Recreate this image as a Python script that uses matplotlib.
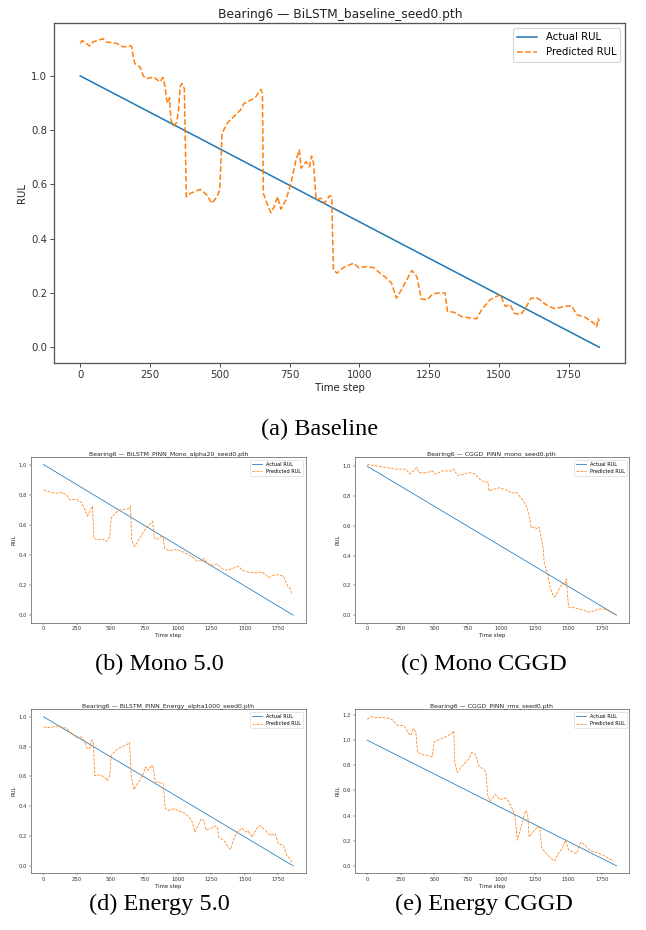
import matplotlib
matplotlib.use("Agg")
import matplotlib.pyplot as plt
import numpy as np

N_STEPS = 1860  # length of the actual RUL line (0 .. N_STEPS)

# ---------------- data ----------------
# (a) Baseline
base_x = [0, 8, 34, 45, 82, 94, 130, 154, 178, 184, 190, 196, 214, 226, 238, 262, 286, 296, 304,
          310, 316, 320, 325, 334, 346, 352, 358, 364, 373, 380, 394, 430, 454, 472, 490, 500, 508,
          526, 550, 574, 586, 610, 629, 647, 653, 656, 671, 683, 695, 707, 719, 737, 755, 773, 785,
          791, 809, 821, 829, 836, 845, 863, 875, 893, 901, 907, 920, 944, 980, 999, 1029, 1054,
          1066, 1090, 1115, 1133, 1151, 1170, 1188, 1206, 1222, 1243, 1261, 1279, 1307, 1316, 1340,
          1365, 1395, 1420, 1438, 1468, 1493, 1505, 1523, 1541, 1554, 1578, 1596, 1615, 1639, 1669,
          1700, 1737, 1761, 1779, 1810, 1840, 1850, 1856, 1860]
base_y = [1.12, 1.13, 1.11, 1.125, 1.137, 1.125, 1.12, 1.107, 1.11, 1.11, 1.07, 1.045, 1.033, 1.0,
          0.99, 0.996, 0.978, 0.994, 0.96, 0.91, 0.90, 0.92, 0.837, 0.815, 0.83, 0.874, 0.96, 0.972,
          0.953, 0.555, 0.567, 0.582, 0.561, 0.53, 0.555, 0.58, 0.788, 0.825, 0.85, 0.874, 0.898,
          0.91, 0.923, 0.95, 0.935, 0.567, 0.525, 0.496, 0.518, 0.555, 0.509, 0.543, 0.604, 0.69,
          0.727, 0.66, 0.684, 0.665, 0.705, 0.678, 0.543, 0.549, 0.531, 0.558, 0.555, 0.285, 0.273,
          0.295, 0.31, 0.292, 0.298, 0.292, 0.28, 0.261, 0.237, 0.181, 0.212, 0.249, 0.283, 0.261,
          0.178, 0.175, 0.194, 0.2, 0.2, 0.132, 0.129, 0.114, 0.108, 0.105, 0.138, 0.175, 0.188,
          0.194, 0.151, 0.157, 0.126, 0.12, 0.145, 0.181, 0.181, 0.157, 0.142, 0.151, 0.153, 0.12,
          0.11, 0.089, 0.075, 0.105, 0.096]

# (b) Mono 5.0
mono_x = [0, 49, 99, 136, 173, 197, 246, 283, 308, 328, 345, 365, 375, 394, 444, 468, 493, 505,
          530, 567, 604, 641, 648, 656, 678, 702, 739, 764, 789, 813, 826, 850, 875, 892, 902, 937,
          986, 1035, 1085, 1122, 1146, 1183, 1195, 1220, 1257, 1294, 1331, 1356, 1405, 1454, 1479,
          1528, 1578, 1627, 1651, 1676, 1713, 1750, 1787, 1804, 1824, 1839, 1849]
mono_y = [0.83, 0.818, 0.81, 0.814, 0.798, 0.765, 0.769, 0.747, 0.70, 0.657, 0.69, 0.724, 0.511,
          0.504, 0.504, 0.489, 0.518, 0.646, 0.675, 0.697, 0.702, 0.708, 0.724, 0.50, 0.455, 0.489,
          0.545, 0.578, 0.60, 0.623, 0.511, 0.504, 0.522, 0.511, 0.444, 0.428, 0.437, 0.422, 0.40,
          0.377, 0.359, 0.361, 0.377, 0.343, 0.332, 0.339, 0.309, 0.298, 0.309, 0.325, 0.298, 0.285,
          0.28, 0.285, 0.271, 0.249, 0.265, 0.269, 0.258, 0.22, 0.186, 0.175, 0.137]

# (c) Mono CGGD
monoc_x = [0, 67, 141, 215, 289, 318, 343, 368, 388, 437, 486, 511, 560, 634, 646, 671, 716, 765,
           807, 839, 876, 901, 908, 938, 988, 1024, 1061, 1079, 1111, 1136, 1173, 1190, 1210, 1222,
           1247, 1264, 1281, 1301, 1314, 1321, 1345, 1365, 1382, 1400, 1425, 1454, 1474, 1486, 1493,
           1503, 1555, 1602, 1654, 1691, 1728, 1777, 1815, 1849]
monoc_y = [1.011, 1.002, 0.991, 0.98, 0.98, 0.946, 0.968, 0.991, 0.957, 0.955, 0.968, 0.946, 0.968,
           0.968, 0.98, 0.939, 0.946, 0.957, 0.946, 0.912, 0.894, 0.894, 0.833, 0.844, 0.855, 0.844,
           0.833, 0.817, 0.826, 0.80, 0.756, 0.729, 0.665, 0.586, 0.593, 0.579, 0.593, 0.507, 0.439,
           0.348, 0.281, 0.19, 0.14, 0.122, 0.165, 0.213, 0.206, 0.244, 0.143, 0.054, 0.048, 0.036,
           0.02, 0.029, 0.041, 0.041, 0.02, 0.005]

# (d) Energy 5.0
en_x = [0, 25, 74, 123, 173, 210, 246, 283, 308, 325, 345, 357, 370, 382, 419, 456, 474, 493, 505,
        542, 579, 616, 641, 653, 673, 702, 739, 759, 776, 813, 833, 863, 892, 907, 937, 974, 1011,
        1048, 1085, 1109, 1127, 1151, 1176, 1195, 1208, 1245, 1277, 1294, 1306, 1343, 1380, 1393,
        1417, 1442, 1479, 1504, 1523, 1553, 1590, 1615, 1651, 1688, 1725, 1750, 1787, 1812, 1836,
        1849]
en_y = [0.933, 0.926, 0.933, 0.933, 0.922, 0.888, 0.861, 0.865, 0.832, 0.787, 0.787, 0.843, 0.832,
        0.605, 0.61, 0.596, 0.57, 0.605, 0.742, 0.776, 0.798, 0.81, 0.827, 0.605, 0.511, 0.552,
        0.605, 0.664, 0.641, 0.675, 0.563, 0.558, 0.552, 0.383, 0.372, 0.383, 0.368, 0.356, 0.327,
        0.294, 0.226, 0.271, 0.316, 0.305, 0.242, 0.249, 0.267, 0.26, 0.193, 0.17, 0.121, 0.11,
        0.182, 0.226, 0.253, 0.226, 0.235, 0.193, 0.253, 0.271, 0.238, 0.204, 0.215, 0.148, 0.137,
        0.07, 0.047, 0.02]

# (e) Energy CGGD
enc_x = [0, 30, 79, 141, 165, 190, 227, 276, 309, 326, 343, 363, 375, 412, 449, 486, 499, 536, 585,
         634, 646, 654, 671, 708, 758, 782, 807, 819, 832, 869, 886, 898, 918, 956, 993, 1029, 1054,
         1074, 1091, 1103, 1120, 1140, 1165, 1182, 1197, 1207, 1239, 1271, 1289, 1301, 1338, 1375,
         1400, 1424, 1454, 1479, 1503, 1535, 1560, 1592, 1622, 1659, 1696, 1733, 1770, 1807, 1844]
enc_y = [1.165, 1.186, 1.18, 1.178, 1.173, 1.16, 1.119, 1.114, 1.052, 1.038, 1.092, 1.065, 0.904,
         0.885, 0.877, 0.869, 0.985, 1.003, 1.025, 1.057, 1.073, 0.823, 0.743, 0.796, 0.85, 0.904,
         0.885, 0.85, 0.796, 0.769, 0.743, 0.568, 0.514, 0.568, 0.527, 0.541, 0.514, 0.473, 0.433,
         0.393, 0.204, 0.272, 0.379, 0.439, 0.42, 0.231, 0.272, 0.312, 0.299, 0.143, 0.097, 0.056,
         0.038, 0.097, 0.137, 0.204, 0.124, 0.11, 0.097, 0.186, 0.169, 0.124, 0.11, 0.097, 0.078,
         0.056, 0.035]

titles = {
    "a": "Bearing6 \u2014 BiLSTM_baseline_seed0.pth",
    "b": "Bearing6 \u2014 BiLSTM_PINN_Mono_alpha20_seed0.pth",
    "c": "Bearing6 \u2014 CGGD_PINN_mono_seed0.pth",
    "d": "Bearing6 \u2014 BiLSTM_PINN_Energy_alpha1000_seed0.pth",
    "e": "Bearing6 \u2014 CGGD_PINN_rms_seed0.pth",
}
captions = {"a": "(a) Baseline", "b": "(b) Mono 5.0", "c": "(c) Mono CGGD",
            "d": "(d) Energy 5.0", "e": "(e) Energy CGGD"}
xticks = [0, 250, 500, 750, 1000, 1250, 1500, 1750]

# ---------------- figure ----------------
W, H = 646, 930
fig = plt.figure(figsize=(W / 100, H / 100), dpi=100)

BLUE = "#1f77b4"
ORANGE = "#ff7f0e"


def add_ax(left, top, right, bottom):
    return fig.add_axes([left / W, 1 - bottom / H, (right - left) / W, (bottom - top) / H])


def draw(ax, px, py, title, s, ts, ls, tpad, lw, yticks):
    ax.plot([0, N_STEPS], [1.0, 0.0], color=BLUE, lw=lw, label="Actual RUL")
    ax.plot(px, py, color=ORANGE, lw=lw, ls="--", label="Predicted RUL")
    ax.set_xticks(xticks)
    ax.set_yticks(yticks)
    ax.set_yticklabels([f"{v:.1f}" for v in yticks])
    ax.tick_params(labelsize=s, length=3.5 * s / 10, width=0.6 * s / 7, pad=2.5 * s / 7,
                   colors="#333333")
    for sp in ax.spines.values():
        sp.set_color("#555555")
        sp.set_linewidth(0.9 * s / 7)
    ax.set_title(title, fontsize=ts, pad=tpad, color="#222222")
    ax.set_xlabel("Time step", fontsize=s, labelpad=2 * s / 7, color="#222222")
    ax.set_ylabel("RUL", fontsize=s, labelpad=3 * s / 7, color="#222222")
    leg = ax.legend(loc="upper right", fontsize=ls, frameon=True, fancybox=True,
                    borderpad=0.4, handlelength=2.0, labelspacing=0.5, framealpha=0.8)
    leg.get_frame().set_linewidth(0.8 * s / 7)


std_y = [0.0, 0.2, 0.4, 0.6, 0.8, 1.0]
big_y = [0.0, 0.2, 0.4, 0.6, 0.8, 1.0, 1.2]

ax_a = add_ax(54.3, 23.3, 625.3, 362.7)
draw(ax_a, base_x, base_y, titles["a"], 7.3, 8.8, 7.3, 4.0, 1.1, std_y)

SMALL = dict(s=3.8, ts=4.4, ls=3.6, tpad=1.3, lw=0.55)
ax_b = add_ax(31, 457, 305.7, 622.7)
draw(ax_b, mono_x, mono_y, titles["b"], yticks=std_y, **SMALL)
ax_c = add_ax(354.7, 457, 629, 622.7)
draw(ax_c, monoc_x, monoc_y, titles["c"], yticks=std_y, **SMALL)
ax_d = add_ax(31, 709.3, 305.7, 873.3)
draw(ax_d, en_x, en_y, titles["d"], yticks=std_y, **SMALL)
ax_e = add_ax(354.7, 709.3, 629, 873.3)
draw(ax_e, enc_x, enc_y, titles["e"], yticks=big_y, **SMALL)

cap_kw = dict(ha="center", va="baseline", fontsize=17.5, family="Liberation Serif", color="black")
fig.text(320 / W, 1 - 435.3 / H, captions["a"], **cap_kw)
fig.text(159 / W, 1 - 670 / H, captions["b"], **cap_kw)
fig.text(484 / W, 1 - 670 / H, captions["c"], **cap_kw)
fig.text(159 / W, 1 - 910 / H, captions["d"], **cap_kw)
fig.text(484 / W, 1 - 910 / H, captions["e"], **cap_kw)

fig.savefig("out.png", dpi=100)
